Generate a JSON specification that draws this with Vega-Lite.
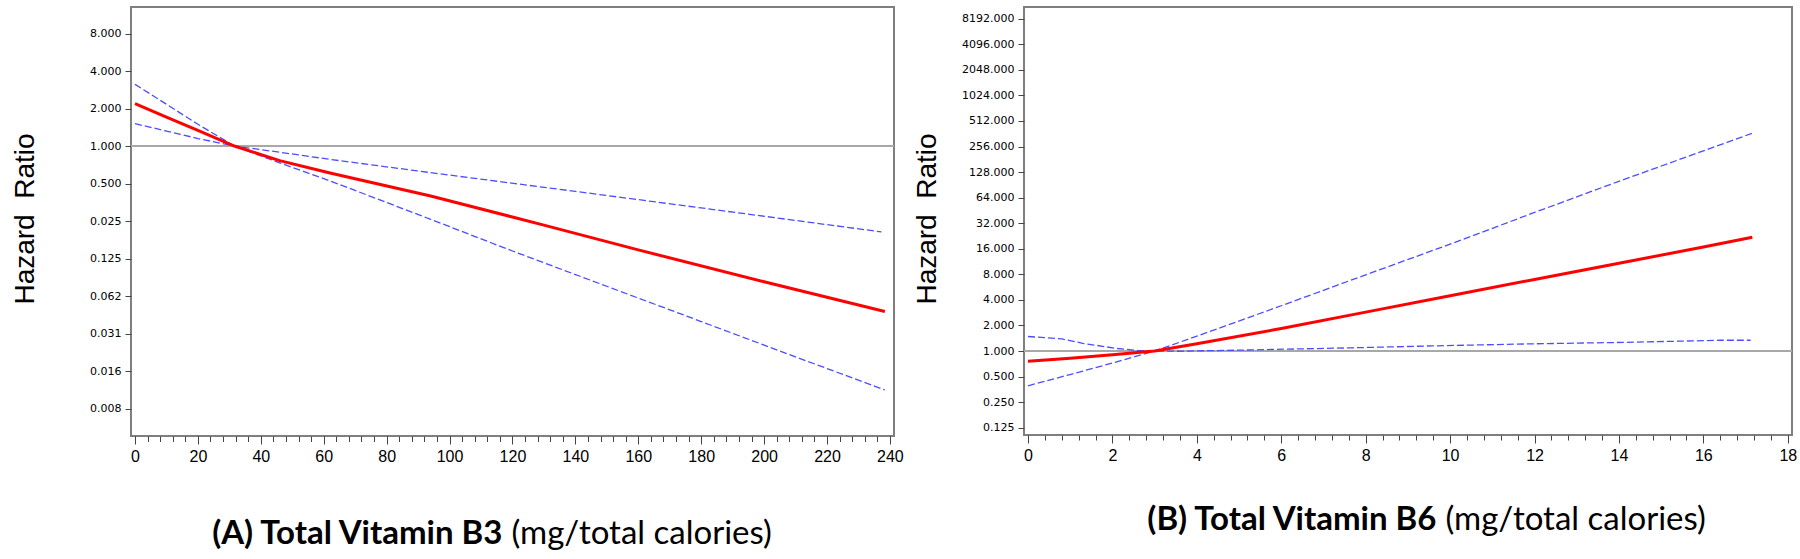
{
  "$schema": "https://vega.github.io/schema/vega-lite/v6.json",
  "background": "white",
  "padding": {"left": 10, "top": 6, "right": 5, "bottom": 0},
  "spacing": 7,
  "config": {
    "view": {"stroke": "#7f7f7f", "strokeWidth": 2},
    "axis": {"grid": false, "domain": false, "tickColor": "#444444", "labelColor": "#000000", "titleColor": "#000000"}
  },
  "datasets": {
    "A": [
      {"series": "est", "x": 0, "hr": 2.186},
      {"series": "est", "x": 10, "hr": 1.705},
      {"series": "est", "x": 20, "hr": 1.338},
      {"series": "est", "x": 31.6, "hr": 1.0},
      {"series": "est", "x": 46, "hr": 0.763},
      {"series": "est", "x": 62, "hr": 0.607},
      {"series": "est", "x": 94, "hr": 0.397},
      {"series": "est", "x": 130, "hr": 0.2316},
      {"series": "est", "x": 160, "hr": 0.1466},
      {"series": "est", "x": 200, "hr": 0.0814},
      {"series": "est", "x": 238.4, "hr": 0.047},
      {"series": "ci1", "x": 0, "hr": 3.127},
      {"series": "ci1", "x": 10, "hr": 2.166},
      {"series": "ci1", "x": 20, "hr": 1.495},
      {"series": "ci1", "x": 31.6, "hr": 1.0},
      {"series": "ci1", "x": 46, "hr": 0.732},
      {"series": "ci1", "x": 62, "hr": 0.525},
      {"series": "ci1", "x": 94, "hr": 0.258},
      {"series": "ci1", "x": 120, "hr": 0.1436},
      {"series": "ci1", "x": 145.5, "hr": 0.0825},
      {"series": "ci1", "x": 180, "hr": 0.039},
      {"series": "ci1", "x": 210, "hr": 0.0203},
      {"series": "ci1", "x": 238.4, "hr": 0.011},
      {"series": "ci2", "x": 0, "hr": 1.5105},
      {"series": "ci2", "x": 10, "hr": 1.3195},
      {"series": "ci2", "x": 20, "hr": 1.1487},
      {"series": "ci2", "x": 31.6, "hr": 1.0},
      {"series": "ci2", "x": 46.4, "hr": 0.8888},
      {"series": "ci2", "x": 62.3, "hr": 0.7792},
      {"series": "ci2", "x": 94, "hr": 0.6113},
      {"series": "ci2", "x": 140, "hr": 0.4323},
      {"series": "ci2", "x": 180, "hr": 0.3186},
      {"series": "ci2", "x": 210, "hr": 0.2526},
      {"series": "ci2", "x": 237.3, "hr": 0.2045}
    ],
    "B": [
      {"series": "est", "x": 0, "hr": 0.758},
      {"series": "est", "x": 1, "hr": 0.8236},
      {"series": "est", "x": 2, "hr": 0.9013},
      {"series": "est", "x": 3, "hr": 1.0},
      {"series": "est", "x": 4, "hr": 1.2142},
      {"series": "est", "x": 6, "hr": 1.8404},
      {"series": "est", "x": 8, "hr": 2.868},
      {"series": "est", "x": 10, "hr": 4.469},
      {"series": "est", "x": 12, "hr": 6.964},
      {"series": "est", "x": 14, "hr": 10.78},
      {"series": "est", "x": 16, "hr": 16.8},
      {"series": "est", "x": 17.16, "hr": 21.86},
      {"series": "ci1", "x": 0, "hr": 0.3896},
      {"series": "ci1", "x": 1, "hr": 0.5285},
      {"series": "ci1", "x": 2, "hr": 0.7219},
      {"series": "ci1", "x": 3, "hr": 1.0},
      {"series": "ci1", "x": 4, "hr": 1.4948},
      {"series": "ci1", "x": 6, "hr": 3.411},
      {"series": "ci1", "x": 8, "hr": 7.89},
      {"series": "ci1", "x": 10, "hr": 18.13},
      {"series": "ci1", "x": 12, "hr": 42.81},
      {"series": "ci1", "x": 14, "hr": 99.73},
      {"series": "ci1", "x": 16, "hr": 227.5},
      {"series": "ci1", "x": 17.16, "hr": 367.1},
      {"series": "ci2", "x": 0, "hr": 1.4815},
      {"series": "ci2", "x": 0.8, "hr": 1.39},
      {"series": "ci2", "x": 1.3, "hr": 1.2311},
      {"series": "ci2", "x": 2.1, "hr": 1.0718},
      {"series": "ci2", "x": 2.6, "hr": 1.014},
      {"series": "ci2", "x": 3.5, "hr": 0.9931},
      {"series": "ci2", "x": 4.9, "hr": 1.021},
      {"series": "ci2", "x": 7.68, "hr": 1.0905},
      {"series": "ci2", "x": 9.57, "hr": 1.1487},
      {"series": "ci2", "x": 11.94, "hr": 1.2142},
      {"series": "ci2", "x": 14.2, "hr": 1.2658},
      {"series": "ci2", "x": 16.4, "hr": 1.3379},
      {"series": "ci2", "x": 17.12, "hr": 1.3379}
    ]
  },
  "hconcat": [
    {
      "width": 763,
      "height": 429,
      "data": {"name": "A"},
      "layer": [
        {
          "mark": {"type": "rule", "color": "#a8a8a8", "strokeWidth": 1.5},
          "encoding": {
            "y": {"datum": 1, "type": "quantitative",
              "scale": {"type": "log", "base": 2, "domain": [0.0047, 13.06], "nice": false},
              "axis": {"values": [0.0078125, 0.015625, 0.03125, 0.0625, 0.125, 0.25, 0.5, 1, 2, 4, 8],
                "labelExpr": "datum.value < 0.01 ? '0.008' : datum.value < 0.02 ? '0.016' : datum.value < 0.04 ? '0.031' : datum.value < 0.07 ? '0.062' : datum.value < 0.2 ? '0.125' : datum.value < 0.3 ? '0.025' : format(datum.value, '.3f')",
                "labelFont": "DejaVu Sans", "labelFontSize": 11, "tickSize": 6, "labelPadding": 4,
                "title": "Hazard\u00a0 Ratio", "titleFont": "Liberation Sans", "titleFontSize": 28, "titleFontWeight": "normal",
                "titleAngle": -90, "titleX": -98, "titleY": 211.5, "titleAlign": "center", "titleBaseline": "alphabetic"}
            }
          }
        },
        {
          "transform": [{"filter": "datum.series != 'est'"}],
          "mark": {"type": "line", "color": "#4d4dff", "strokeWidth": 1.3, "strokeDash": [7, 3]},
          "encoding": {
            "x": {"field": "x", "type": "quantitative",
              "scale": {"domain": [-1.27, 241.3], "nice": false, "zero": false},
              "axis": {"orient": "bottom", "values": [0, 20, 40, 60, 80, 100, 120, 140, 160, 180, 200, 220, 240],
                "tickSize": 8, "labelFont": "Liberation Sans", "labelFontSize": 16, "labelPadding": 4,
                "labelFlush": false, "labelOverlap": false,
                "title": "(A) Total Vitamin B3", "titleFont": "Lato", "titleFontSize": 33, "titleFontWeight": "bold",
                "titleAngle": 0, "titleX": 371, "titleY": 107, "titleAlign": "right", "titleBaseline": "alphabetic"}},
            "y": {"field": "hr", "type": "quantitative",
              "scale": {"type": "log", "base": 2, "domain": [0.0047, 13.06], "nice": false}},
            "detail": {"field": "series"}
          }
        },
        {
          "transform": [{"filter": "datum.series == 'est'"}],
          "mark": {"type": "line", "color": "#ff0000", "strokeWidth": 3},
          "encoding": {
            "x": {"field": "x", "type": "quantitative",
              "scale": {"domain": [-1.27, 241.3], "nice": false, "zero": false},
              "axis": {"orient": "bottom", "values": [0, 4, 8, 12, 16, 20, 24, 28, 32, 36, 40, 44, 48, 52, 56, 60, 64, 68, 72, 76, 80, 84, 88, 92, 96, 100, 104, 108, 112, 116, 120, 124, 128, 132, 136, 140, 144, 148, 152, 156, 160, 164, 168, 172, 176, 180, 184, 188, 192, 196, 200, 204, 208, 212, 216, 220, 224, 228, 232, 236, 240],
                "tickSize": 5.5, "labels": false,
                "title": "(mg/total calories)", "titleFont": "Lato", "titleFontSize": 33, "titleFontWeight": "normal",
                "titleAngle": 0, "titleX": 380, "titleY": 107, "titleAlign": "left", "titleBaseline": "alphabetic"}},
            "y": {"field": "hr", "type": "quantitative",
              "scale": {"type": "log", "base": 2, "domain": [0.0047, 13.06], "nice": false}}
          }
        }
      ],
      "resolve": {"axis": {"x": "independent"}}
    },
    {
      "width": 768,
      "height": 428,
      "data": {"name": "B"},
      "layer": [
        {
          "mark": {"type": "rule", "color": "#a8a8a8", "strokeWidth": 1.5},
          "encoding": {
            "y": {"datum": 1, "type": "quantitative",
              "scale": {"type": "log", "base": 2, "domain": [0.10251, 11254], "nice": false},
              "axis": {"values": [0.125, 0.25, 0.5, 1, 2, 4, 8, 16, 32, 64, 128, 256, 512, 1024, 2048, 4096, 8192],
                "labelExpr": "format(datum.value, '.3f')",
                "labelFont": "DejaVu Sans", "labelFontSize": 11, "tickSize": 6, "labelPadding": 4,
                "title": "Hazard\u00a0 Ratio", "titleFont": "Liberation Sans", "titleFontSize": 28, "titleFontWeight": "normal",
                "titleAngle": -90, "titleX": -89, "titleY": 211.5, "titleAlign": "center", "titleBaseline": "alphabetic"}
            }
          }
        },
        {
          "transform": [{"filter": "datum.series != 'est'"}],
          "mark": {"type": "line", "color": "#4d4dff", "strokeWidth": 1.3, "strokeDash": [7, 3]},
          "encoding": {
            "x": {"field": "x", "type": "quantitative",
              "scale": {"domain": [-0.095, 18.1], "nice": false, "zero": false},
              "axis": {"orient": "bottom", "values": [0, 2, 4, 6, 8, 10, 12, 14, 16, 18],
                "tickSize": 8, "labelFont": "Liberation Sans", "labelFontSize": 16, "labelPadding": 4,
                "labelFlush": false, "labelOverlap": false,
                "title": "(B) Total Vitamin B6", "titleFont": "Lato", "titleFontSize": 33, "titleFontWeight": "bold",
                "titleAngle": 0, "titleX": 412, "titleY": 94, "titleAlign": "right", "titleBaseline": "alphabetic"}},
            "y": {"field": "hr", "type": "quantitative",
              "scale": {"type": "log", "base": 2, "domain": [0.10251, 11254], "nice": false}},
            "detail": {"field": "series"}
          }
        },
        {
          "transform": [{"filter": "datum.series == 'est'"}],
          "mark": {"type": "line", "color": "#ff0000", "strokeWidth": 3},
          "encoding": {
            "x": {"field": "x", "type": "quantitative",
              "scale": {"domain": [-0.095, 18.1], "nice": false, "zero": false},
              "axis": {"orient": "bottom", "values": [0, 0.4, 0.8, 1.2, 1.6, 2, 2.4, 2.8, 3.2, 3.6, 4, 4.4, 4.8, 5.2, 5.6, 6, 6.4, 6.8, 7.2, 7.6, 8, 8.4, 8.8, 9.2, 9.6, 10, 10.4, 10.8, 11.2, 11.6, 12, 12.4, 12.8, 13.2, 13.6, 14, 14.4, 14.8, 15.2, 15.6, 16, 16.4, 16.8, 17.2, 17.6, 18],
                "tickSize": 5, "labels": false,
                "title": "(mg/total calories)", "titleFont": "Lato", "titleFontSize": 33, "titleFontWeight": "normal",
                "titleAngle": 0, "titleX": 421, "titleY": 94, "titleAlign": "left", "titleBaseline": "alphabetic"}},
            "y": {"field": "hr", "type": "quantitative",
              "scale": {"type": "log", "base": 2, "domain": [0.10251, 11254], "nice": false}}
          }
        }
      ],
      "resolve": {"axis": {"x": "independent"}}
    }
  ]
}
